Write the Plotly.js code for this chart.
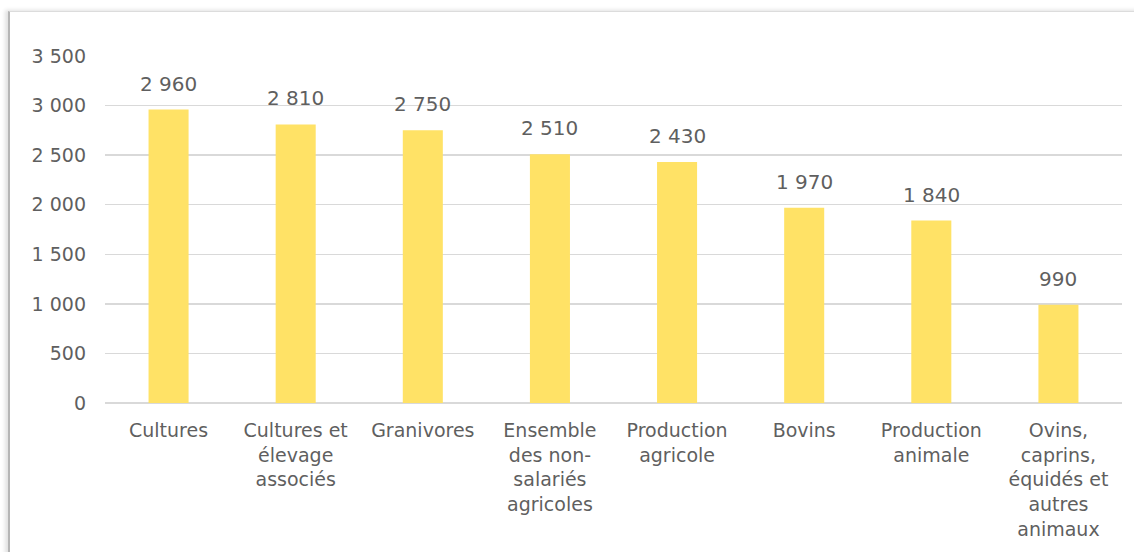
<!DOCTYPE html>
<html>
<head>
<meta charset="utf-8">
<script src="https://cdn.plot.ly/plotly-3.0.1.min.js"></script>
<style>
html,body{margin:0;padding:0;background:#fff;}
#frame{position:absolute;left:8px;top:11px;width:1140px;height:560px;border-left:2px solid #b5b5b5;border-top:1px solid #dcdcdc;box-shadow:-3px -1px 4px rgba(0,0,0,0.12);}
#chart{position:absolute;left:0;top:0;width:1134px;height:552px;}
</style>
</head>
<body>
<div id="frame"></div>
<div id="chart"></div>
<script>
const categories = ["Cultures", "Cultures et<br>élevage<br>associés", "Granivores", "Ensemble<br>des non-<br>salariés<br>agricoles", "Production<br>agricole", "Bovins", "Production<br>animale", "Ovins,<br>caprins,<br>équidés et<br>autres<br>animaux"];
const values = [2960, 2810, 2750, 2510, 2430, 1970, 1840, 990];
const valueLabels = ["2 960", "2 810", "2 750", "2 510", "2 430", "1 970", "1 840", "990"];
const yTickVals = [0, 500, 1000, 1500, 2000, 2500, 3000, 3500];
const yTickText = ["0", "500", "1 000", "1 500", "2 000", "2 500", "3 000", "3 500"];

const fontFam = "'DejaVu Sans', sans-serif";
const txtColor = '#5f5f5f';
const trace = {
  type: 'bar',
  x: categories,
  y: values,
  marker: {color: '#FFE266'},
  hoverinfo: 'none'
};
const annotations = categories.map((c, i) => ({
  x: c, y: values[i], xref: 'x', yref: 'y',
  text: valueLabels[i], showarrow: false,
  yanchor: 'bottom', yshift: 12,
  font: {family: fontFam, size: 20, color: txtColor}
}));
const layout = {
  width: 1134, height: 552,
  margin: {l: 105, r: 12, t: 56, b: 149},
  paper_bgcolor: 'rgba(0,0,0,0)',
  plot_bgcolor: 'rgba(0,0,0,0)',
  bargap: 0.685,
  showlegend: false,
  font: {family: fontFam, color: txtColor, size: 19},
  annotations: annotations,
  xaxis: {
    showgrid: false, zeroline: false, showline: false,
    ticks: '', ticklabelstandoff: 14,
    tickfont: {family: fontFam, size: 19, color: txtColor},
    automargin: false
  },
  yaxis: {
    range: [0, 3500], tickvals: yTickVals, ticktext: yTickText,
    showgrid: true, gridcolor: '#d9d9d9', gridwidth: 1.5,
    zeroline: true, zerolinecolor: '#d9d9d9', zerolinewidth: 1.5,
    showline: false, ticks: '', ticklabelstandoff: 18,
    tickfont: {family: fontFam, size: 19, color: txtColor},
    automargin: false
  }
};
Plotly.newPlot('chart', [trace], layout, {displayModeBar: false, staticPlot: true});
</script>
</body>
</html>
